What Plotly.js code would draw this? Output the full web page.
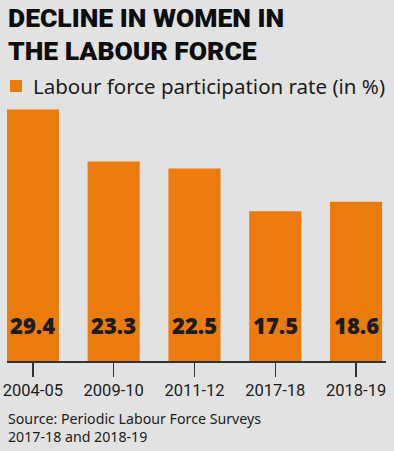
<!DOCTYPE html>
<html>
<head>
<meta charset="utf-8">
<script src="https://cdn.plot.ly/plotly-3.0.1.min.js"></script>
<style>
html,body{margin:0;padding:0;background:#e2e2e2;}
#chart{width:394px;height:451px;}
</style>
</head>
<body>
<div id="chart"></div>
<script>
var categories = ["2004-05", "2009-10", "2011-12", "2017-18", "2018-19"];
var values = [29.4, 23.3, 22.5, 17.5, 18.6];
var valueLabels = ["29.4", "23.3", "22.5", "17.5", "18.6"];
var seriesName = "Labour force participation rate (in %)";
var titleLines = ["DECLINE IN WOMEN IN", "THE LABOUR FORCE"];
var sourceText = "Source: Periodic Labour Force Surveys<br>2017-18 and 2018-19";

var W = 394, H = 451, mT = 100, mB = 90, mL = 7, mR = 8;
var plotH = H - mT - mB, plotW = W - mL - mR;
function py(p) { return (H - mB - p) / plotH; }
function px(p) { return (p - mL) / plotW; }

var ORANGE = "#eb7b0c";
var INK = "#1c1c1c";

var trace = {
  type: "bar",
  x: categories,
  y: values,
  name: seriesName,
  width: 0.645,
  marker: {color: ORANGE, line: {width: 0}},
  hoverinfo: "none",
  showlegend: false
};

var annotations = [];
for (var i = 0; i < categories.length; i++) {
  annotations.push({
    x: categories[i], y: 0, xref: "x", yref: "y",
    text: valueLabels[i], showarrow: false,
    xanchor: "center", yanchor: "bottom", yshift: 19,
    font: {family: "Open Sans, Noto Sans, sans-serif", size: 22, color: INK, weight: 800}
  });
}
annotations.push({
  xref: "paper", yref: "paper", x: px(6), y: py(0), xanchor: "left", yanchor: "top",
  text: titleLines[0], showarrow: false,
  font: {family: "Roboto, sans-serif", size: 26.5, color: "#0d0d0d", weight: 900}
});
annotations.push({
  xref: "paper", yref: "paper", x: px(6), y: py(33), xanchor: "left", yanchor: "top",
  text: titleLines[1], showarrow: false,
  font: {family: "Roboto, sans-serif", size: 26.5, color: "#0d0d0d", weight: 900}
});
// legend entry text
annotations.push({
  xref: "paper", yref: "paper", x: px(31), y: py(86), xanchor: "left", yanchor: "middle",
  text: seriesName, showarrow: false,
  font: {family: "Noto Sans, sans-serif", size: 20.5, color: INK}
});
annotations.push({
  xref: "paper", yref: "paper", x: px(6), y: py(407), xanchor: "left", yanchor: "top",
  text: sourceText, showarrow: false, align: "left",
  font: {family: "Noto Sans, sans-serif", size: 14.2, color: INK}
});

var layout = {
  width: W, height: H,
  margin: {l: mL, r: mR, t: mT, b: mB, pad: 0},
  paper_bgcolor: "#e2e2e2",
  plot_bgcolor: "#e2e2e2",
  showlegend: false,
  xaxis: {
    type: "category",
    range: [-0.32, 4.37],
    showgrid: false, zeroline: false,
    showline: true, linecolor: "#333", linewidth: 1.5,
    ticks: "outside", ticklen: 14, tickwidth: 1.5, tickcolor: "#333",
    ticklabelstandoff: 0,
    tickfont: {family: "Roboto, sans-serif", size: 16.5, color: INK},
    fixedrange: true
  },
  yaxis: {
    visible: false, range: [0, 30.5], showgrid: false, zeroline: false, fixedrange: true
  },
  shapes: [{
    type: "rect", xref: "paper", yref: "paper",
    x0: px(10), x1: px(22), y0: py(92), y1: py(80),
    fillcolor: ORANGE, line: {width: 0}
  }],
  annotations: annotations
};

Plotly.newPlot("chart", [trace], layout, {displayModeBar: false, staticPlot: true});
</script>
</body>
</html>
